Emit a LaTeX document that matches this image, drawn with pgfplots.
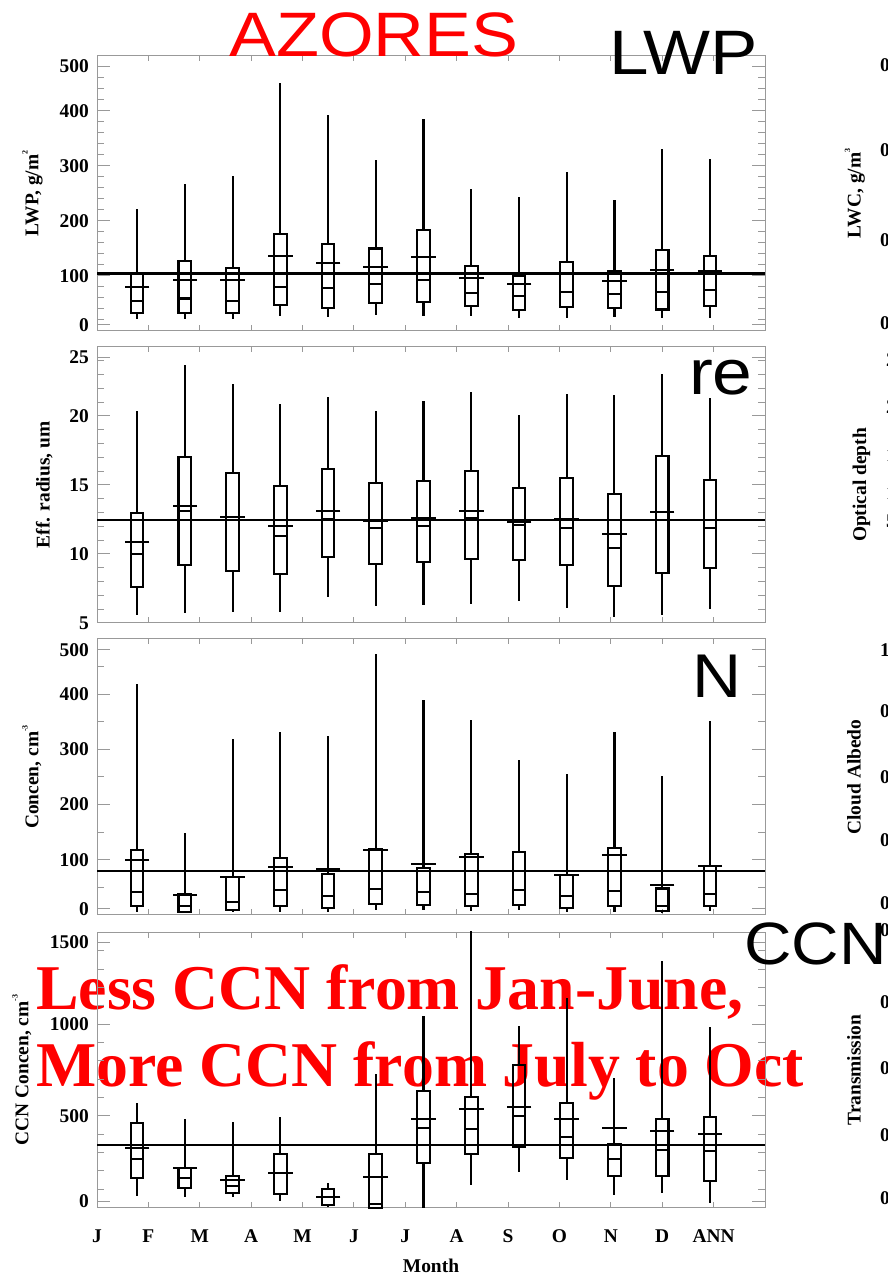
\documentclass[border=0pt]{standalone}
\usepackage{fontspec}
\setmainfont{Liberation Serif}
\newfontfamily\sansf{Liberation Sans}
\usepackage{graphicx}
\usepackage{pgfplots}
\pgfplotsset{compat=1.18}
\usepgfplotslibrary{statistics}

\definecolor{framegray}{rgb}{0.6,0.6,0.6}

\newcommand{\tickfont}{\fontsize{19.5pt}{22pt}\selectfont\bfseries}
\newcommand{\bigsans}[1]{\fontsize{#1pt}{#1pt}\selectfont\sansf}
\newcommand{\sups}[1]{\raisebox{0.55em}{\fontsize{8pt}{8pt}\selectfont #1}}

% one monthly box: position, min, lower quartile, median, upper quartile, max, mean
\newcommand{\bx}[7]{%
  \addplot[black, line width=2.1bp, boxplot prepared={draw position=#1,
      lower whisker=#2, lower quartile=#3, median=#4,
      upper quartile=#5, upper whisker=#6,
      box extend=0.247, whisker extend=0}] coordinates {};
  \addplot[black, only marks, mark=-, mark size=12.3bp,
      mark options={line width=2.1bp}] coordinates {(#1,#7)};
}

\pgfplotsset{
  panel/.style={
    scale only axis, width=668bp, xmin=0, xmax=13, clip=false,
    anchor=south west,
    boxplot/draw direction=y,
    axis line style={framegray, line width=1bp},
    every tick/.style={framegray, line width=1bp},
    minor tick style={framegray, line width=1bp},
    tick align=inside, xtick pos=both, ytick pos=both,
    xtick={0,...,12}, xticklabels={},
    xtick style={/pgfplots/major tick length=5.5bp},
    ytick style={/pgfplots/major tick length=13bp, /pgfplots/minor tick length=7.5bp},
    extra y tick style={/pgfplots/major tick length=0pt},
    tick label style={font=\tickfont},
    yticklabel style={inner sep=0pt, xshift=-8bp},
    /pgf/number format/assume math mode=true,
    /pgf/number format/1000 sep={},
    ylabel style={font=\tickfont, anchor=base},
  },
  ylab at/.style={ylabel style={at={(axis description cs:#1,0.5)}}},
}

\begin{document}
\begin{tikzpicture}

% red annotation, under the plotted lines
\node[anchor=base west, inner sep=0, text=red, font=\fontsize{64pt}{64pt}\selectfont\bfseries]
  at (36bp,265bp) {Less CCN from Jan-June,};
\node[anchor=base west, inner sep=0, text=red, font=\fontsize{64pt}{64pt}\selectfont\bfseries]
  at (36bp,188.3bp) {More CCN from July to Oct};

% ---------------- LWP ----------------
% end labels sit a little inside the frame
\begin{axis}[panel, at={(97bp,944bp)}, height=275bp,
  ymin=0, ymax=500, ytick={0,100,...,500}, minor y tick num=4,
  yticklabels={,100,200,300,400,},
  extra y ticks={10.9,481.8}, extra y tick labels={0,500},
  ylabel={LWP, g/m\sups{2}}, ylab at=-0.0879]
  \addplot[black, line width=2.1bp] coordinates {(0,104.6) (13,104.6)};
  \bx{0.780}{22.5}{32}{55}{103}{221}{80}
  \bx{1.709}{21}{33}{59}{127}{267}{92.5}
  \bx{2.638}{22.5}{33}{54}{115}{282}{92.5}
  \bx{3.567}{27}{47}{80}{176}{450}{136}
  \bx{4.496}{25.5}{42.5}{78.5}{157.5}{392}{123}
  \bx{5.425}{28.6}{51}{85}{150}{311}{117}
  \bx{6.354}{27}{53}{92.5}{183}{386}{134}
  \bx{7.283}{27}{45.6}{69}{118}{258.5}{97}
  \bx{8.212}{24}{38}{63}{100}{244.5}{86}
  \bx{9.141}{24}{43}{71}{125}{289}{103}
  \bx{10.070}{25.5}{42}{67}{109.5}{238.5}{90.6}
  \bx{10.999}{24}{39}{70.6}{148}{330}{111}
  \bx{11.928}{24}{45}{74}{136}{313}{109.5}
\end{axis}

% ---------------- effective radius ----------------
\begin{axis}[panel, at={(97bp,652bp)}, height=276bp,
  ymin=5, ymax=25, ytick={5,10,...,25}, minor y tick num=4,
  yticklabels={5,10,15,20,},
  extra y ticks={24.24}, extra y tick labels={25},
  ylabel={Eff. radius, um}, ylab at=-0.0711]
  \addplot[black, line width=2.1bp] coordinates {(0,12.49) (13,12.49)};
  \bx{0.780}{5.56}{7.63}{10.0}{13.0}{20.34}{10.85}
  \bx{1.709}{5.7}{9.2}{13.12}{17.03}{23.67}{13.48}
  \bx{2.638}{5.77}{8.74}{12.44}{15.85}{22.34}{12.7}
  \bx{3.567}{5.77}{8.57}{11.28}{14.93}{20.84}{12.03}
  \bx{4.496}{6.9}{9.76}{12.5}{16.14}{21.38}{13.12}
  \bx{5.425}{6.26}{9.25}{11.88}{15.17}{20.39}{12.37}
  \bx{6.354}{6.3}{9.42}{12.05}{15.31}{21.09}{12.58}
  \bx{7.283}{6.38}{9.66}{12.58}{16.01}{21.76}{13.1}
  \bx{8.212}{6.62}{9.59}{12.08}{14.81}{20.1}{12.34}
  \bx{9.141}{6.09}{9.23}{11.9}{15.53}{21.6}{12.56}
  \bx{10.070}{5.43}{7.7}{10.41}{14.35}{21.5}{11.47}
  \bx{10.999}{5.56}{8.62}{12.49}{17.1}{23.04}{13.07}
  \bx{11.928}{6.01}{9.01}{11.88}{15.39}{21.33}{12.49}
\end{axis}

% ---------------- droplet concentration ----------------
\begin{axis}[panel, at={(97bp,360bp)}, height=276bp,
  ymin=0, ymax=500, ytick={0,100,...,500}, minor y tick num=1,
  yticklabels={,100,200,300,400,},
  extra y ticks={10.9,480.6}, extra y tick labels={0,500},
  ylabel={Concen, cm\sups{-3}}, ylab at=-0.0879]
  \addplot[black, line width=2.1bp] coordinates {(0,80.3) (13,80.3)};
  \bx{0.780}{5.4}{17}{41}{118}{419}{99.6}
  \bx{1.709}{3.6}{5.4}{15.7}{38}{148.5}{36}
  \bx{2.638}{5.4}{9}{23.5}{69}{319}{69.4}
  \bx{3.567}{5.4}{17}{44.7}{102.7}{331}{86.4}
  \bx{4.496}{4.8}{12}{33.8}{74.9}{323.7}{82.7}
  \bx{5.425}{9.7}{20}{47}{119.6}{473}{117}
  \bx{6.354}{8.5}{18}{41.7}{85}{390}{93}
  \bx{7.283}{6.6}{15.7}{38}{111}{354}{105}
  \bx{8.212}{8.5}{17.5}{46}{114}{280}{79}
  \bx{9.141}{5.4}{12.7}{34}{73}{255}{73}
  \bx{10.070}{5.4}{17}{44}{121}{331.5}{109}
  \bx{10.999}{3.6}{7.9}{17}{48}{251}{53.7}
  \bx{11.928}{6.6}{15.7}{38}{88}{351}{88}
\end{axis}

% ---------------- CCN ----------------
\begin{axis}[panel, at={(97bp,67.3bp)}, height=275.3bp,
  ymin=0, ymax=1500, ytick={0,500,1000,1500}, minor y tick num=4,
  yticklabels={,500,1000,},
  extra y ticks={35.4,1446.6}, extra y tick labels={0,1500},
  ylabel={CCN Concen, cm\sups{-3}}, ylab at=-0.1028,
  xticklabels={J,F,M,A,M,J,J,A,S,O,N,D,ANN},
  xticklabel style={anchor=base, yshift=-34.3bp},
  xlabel={Month}, xlabel style={font=\tickfont, at={(axis description cs:0.5,0)}, anchor=base, yshift=-65bp}]
  \addplot[black, line width=2.1bp] coordinates {(0,340) (13,340)};
  \bx{0.780}{64}{164}{264}{460}{573}{325}
  \bx{1.709}{60}{109}{160}{215}{482}{215}
  \bx{2.638}{56}{78}{118}{173}{469}{151}
  \bx{3.567}{38}{76}{190}{291}{496}{187}
  \bx{4.496}{5}{16}{60}{102}{133}{60}
  \bx{5.425}{0}{0}{20}{293}{729}{169}
  \bx{6.354}{0}{242}{436}{638}{1042}{484}
  \bx{7.283}{122}{291}{427}{602}{1510}{536}
  \bx{8.212}{196}{329}{502}{778}{991}{551}
  \bx{9.141}{151}{269}{387}{569}{1140}{484}
  \bx{10.070}{69}{173}{267}{347}{709}{433}
  \bx{10.999}{78}{173}{315}{482}{1342}{418}
  \bx{11.928}{24}{145}{307}{496}{987}{404}
\end{axis}

% neighbouring column (only its labels reach into view)
\node[rotate=90, anchor=base, inner sep=0, font=\tickfont] at (860.7bp,1081.5bp) {LWC, g/m\sups{3}};
\node[rotate=90, anchor=base, inner sep=0, font=\tickfont] at (866bp,790bp) {Optical depth};
\node[rotate=90, anchor=base, inner sep=0, font=\tickfont] at (860.7bp,498bp) {Cloud Albedo};
\node[rotate=90, anchor=base, inner sep=0, font=\tickfont] at (860.7bp,205bp) {Transmission};
\begin{scope}[every node/.style={anchor=west, inner sep=0, font=\tickfont}]
  \node at (880bp,1210bp) {0.3};
  \node at (880bp,1125bp) {0.2};
  \node at (880bp,1035bp) {0.1};
  \node at (880bp,952bp) {0.0};
  \node at (886bp,915bp) {25};
  \node at (886bp,868bp) {20};
  \node at (886bp,820bp) {15};
  \node at (886bp,782bp) {10};
  \node at (886bp,754bp) {5};
  \node at (880bp,625bp) {1.0};
  \node at (880bp,564bp) {0.8};
  \node at (880bp,498bp) {0.6};
  \node at (880bp,435bp) {0.4};
  \node at (880bp,372bp) {0.2};
  \node at (880bp,345bp) {0.8};
  \node at (880bp,273bp) {0.6};
  \node at (880bp,207bp) {0.4};
  \node at (880bp,140bp) {0.2};
  \node at (880bp,77bp) {0.0};
\end{scope}

% titles
\node[anchor=base west, inner sep=0] at (229bp,1218.3bp) {\scalebox{1.12}[1]{\color{red}\bigsans{63}AZORES}};
\node[anchor=base west, inner sep=0] at (609bp,1200bp) {\scalebox{1.13}[1]{\bigsans{63}LWP}};
\node[anchor=base west, inner sep=0] at (689bp,880bp) {\scalebox{1.12}[1]{\bigsans{64}re}};
\node[anchor=base west, inner sep=0] at (692bp,577.7bp) {\scalebox{1.1}[1]{\bigsans{62}N}};
\node[anchor=base west, inner sep=0] at (744bp,310bp) {\scalebox{1.1}[1]{\bigsans{60}CCN}};

\pgfresetboundingbox
\path[use as bounding box] (0bp,0bp) rectangle (888bp,1275bp);
\end{tikzpicture}
\end{document}
